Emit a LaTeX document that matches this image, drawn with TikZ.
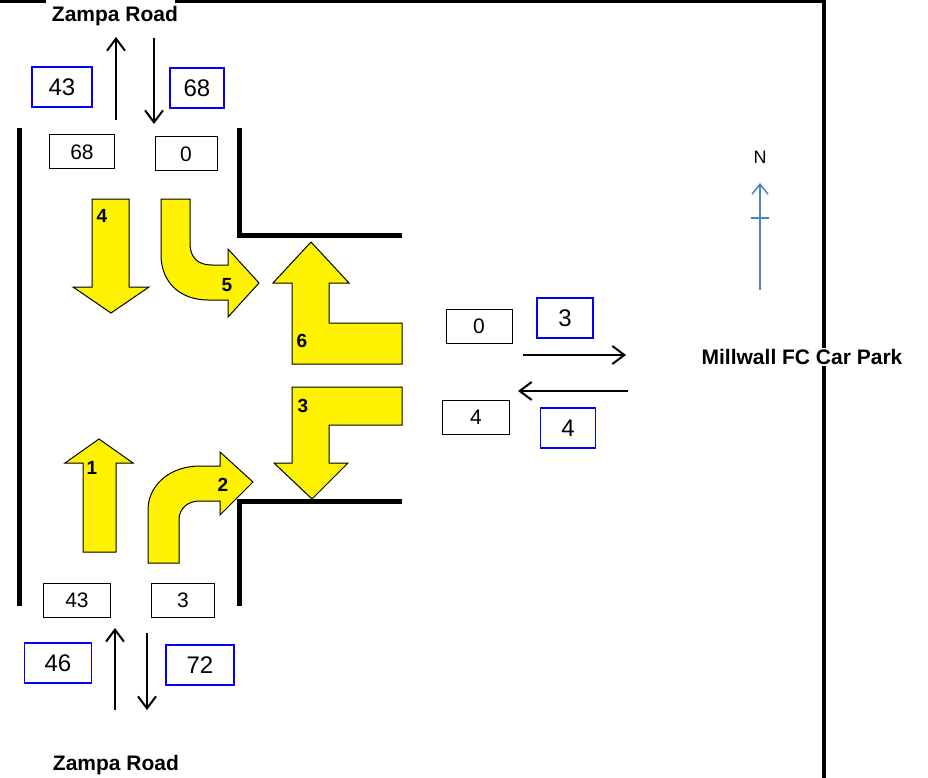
\documentclass[tikz,border=0pt]{standalone}
\usepackage{fontspec}
\setmainfont{Liberation Sans}
\usetikzlibrary{arrows.meta}

\tikzset{
  road/.style={line width=5pt},
  flow/.style={line width=2pt,-{Straight Barb[length=12pt,width=18pt]}},
  cntbox/.style={draw,line width=1pt,minimum height=34pt,inner sep=0pt,font=\fontsize{21}{25}\selectfont},
  obsbox/.style={draw=blue,line width=1.2pt,minimum height=40pt,inner sep=0pt,font=\fontsize{24}{28}\selectfont},
  turn/.style={fill=yellow,draw=black,line width=1pt},
  turnlbl/.style={font=\fontsize{19}{22}\selectfont\bfseries},
  place/.style={font=\fontsize{21}{25}\selectfont\bfseries}
}
\definecolor{northblue}{HTML}{4F81BD}

\begin{document}
\begin{tikzpicture}[x=1pt,y=-1pt]
    \useasboundingbox (0,0) rectangle (928,778);
    % border
    \draw[line width=4pt] (0,1) -- (46,1);
    \draw[line width=4pt] (175,1) -- (824,1) -- (824,778);
    % kerbs
    \draw[road] (19,128) -- (19,606);
    \draw[road] (239,128) -- (239,235) -- (402,235);
    \draw[road] (402,501) -- (239,501) -- (239,606);

    % place names
    \node[place] (zampaN) at (115,16) {Zampa Road};
    \node[place] (zampaS) at (116,765) {Zampa Road};
    \node[place,fill=white,inner sep=1pt] (carpark) at (802,357) {Millwall FC Car Park};

    % counts
    \foreach \name/\x/\y/\w/\t in {nin/82/152/65/68, nout/186/154/62/0, sin/77/600/67/43,
                                   sout/183/600/63/3, ein/479/326/66/0, eout/476/417/67/4}
        \node[cntbox,minimum width=\w pt] (c\name) at (\x,\y) {\t};
    \foreach \name/\x/\y/\w/\t in {nin/62/87/60/43, nout/197/88/54/68, sin/58/663/67/46,
                                   sout/200/665/68/72, ein/565/318/56/3, eout/568/428/55/4}
        \node[obsbox,minimum width=\w pt] (o\name) at (\x,\y) {\t};

    % traffic directions
    \coordinate (nup0) at (116,120);  \coordinate (nup1) at (116,37);
    \coordinate (ndn0) at (154,38);   \coordinate (ndn1) at (154,124);
    \coordinate (sup0) at (115,710);  \coordinate (sup1) at (115,628);
    \coordinate (sdn0) at (147,633);  \coordinate (sdn1) at (147,710);
    \coordinate (eo0) at (523,355);   \coordinate (eo1) at (626,355);
    \coordinate (ei0) at (628,391);   \coordinate (ei1) at (518,391);
    \draw[flow] (nup0) -- (nup1);
    \draw[flow] (ndn0) -- (ndn1);
    \draw[flow] (sup0) -- (sup1);
    \draw[flow] (sdn0) -- (sdn1);
    \draw[flow] (eo0) -- (eo1);
    \draw[flow] (ei0) -- (ei1);

    % turning movements
    \draw[turn] (83,552) -- (116,552) -- (116,463) -- (133,463) -- (99,439) -- (65,463) -- (83,463) -- cycle;
    \draw[turn] (148,563) -- (179,563) -- (179,520) .. controls (179,508) and (188,501) .. (200,501)
        -- (220,501) -- (220,515) -- (253,482) -- (220,452) -- (220,466) -- (200,466)
        .. controls (170,466) and (148,485) .. (148,510) -- cycle;
    \draw[turn] (402,387) -- (402,425) -- (329,425) -- (329,463) -- (348,463) -- (312,499)
        -- (274,463) -- (292,463) -- (292,387) -- cycle;
    \draw[turn] (92,199) -- (129,199) -- (129,287) -- (149,287) -- (111,313) -- (73,287) -- (92,287) -- cycle;
    \draw[turn] (161,199) -- (190,199) -- (190,243) .. controls (190,258) and (198,265) .. (212,265)
        -- (228,265) -- (228,249) -- (259,283) -- (228,317) -- (228,300) -- (208,300)
        .. controls (180,300) and (161,282) .. (161,255) -- cycle;
    \draw[turn] (292,364) -- (402,364) -- (402,323) -- (329,323) -- (329,283) -- (349,283)
        -- (311,242) -- (273,283) -- (292,283) -- cycle;
    \foreach \n/\x/\y in {1/92/468, 2/223/485, 3/303/406, 4/102/216, 5/227/285, 6/302/341}
        \node[turnlbl] (t\n) at (\x,\y) {\n};

    % north point
    \node[font=\fontsize{18}{21}\selectfont] (north) at (760,157) {N};
    \coordinate (n0) at (760,290);
    \coordinate (n1) at (760,183);
    \draw[northblue,line width=1.5pt,-{Straight Barb[length=10pt,width=16pt]}] (n0) -- (n1);
    \draw[northblue,line width=1.5pt] (751,218) -- (769,218);
\end{tikzpicture}
\end{document}
